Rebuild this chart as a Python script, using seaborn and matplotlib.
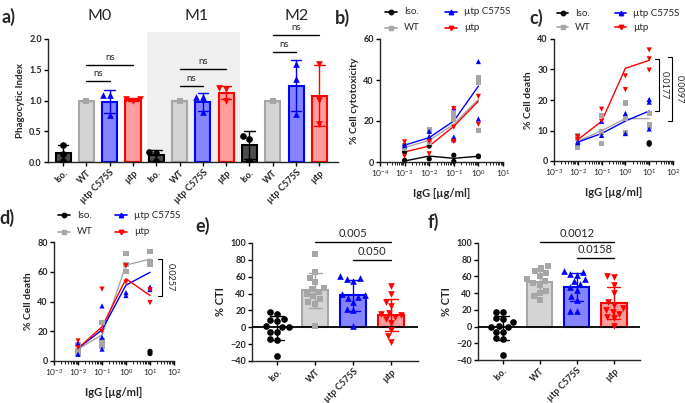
import warnings
warnings.filterwarnings("ignore")
import numpy as np
import pandas as pd
import matplotlib
matplotlib.use("Agg")
import matplotlib.pyplot as plt
from matplotlib.lines import Line2D
from matplotlib.patches import Rectangle
from matplotlib.ticker import LogLocator, NullFormatter
import seaborn as sns

# ---------------- data ----------------
groups = ["Iso.", "WT", "µtp C575S", "µtp"]
macro = ["M0", "M1", "M2"]

# (a) phagocytic index, three donors per bar, per macrophage type M0/M1/M2
a_iso = [[0.28, 0.13, 0.02], [0.17, 0.15, 0.01], [0.42, 0.38, 0.01]]
a_wt = [[1.0, 1.0, 1.0], [1.0, 1.0, 1.0], [1.0, 1.0, 1.0]]
a_c575s = [[1.09, 1.09, 0.76], [1.06, 1.05, 0.81], [1.59, 1.35, 0.78]]
a_utp = [[1.03, 1.02, 0.99], [1.20, 1.19, 1.00], [1.60, 1.01, 0.62]]

# (b) % cell cytotoxicity vs IgG
b_conc = [1e-3, 1e-2, 1e-1, 1e0]
b_mean_iso = [0.5, 2.9, 1.8, 2.8]
b_mean_wt = [7.0, 10.6, 18.4, 30.6]
b_mean_c575s = [8.2, 11.9, 20.0, 37.0]
b_mean_utp = [4.9, 7.8, 17.4, 29.7]
b_pts_iso = [[4.9, 0.8], [7.8, 1.5], [3.3, 0.3], [2.9, 2.6]]
b_pts_wt = [[7.8, 6.8], [15.8, 15.0, 9.8], [23.6, 21.0, 10.6], [41.0, 38.6, 15.2]]
b_pts_c575s = [[9.0, 8.0], [15.0, 12.5], [26.4, 12.2, 11.4], [49.0, 21.0]]
b_pts_utp = [[9.8, 2.8], [10.0, 4.0], [26.0, 17.0, 10.0], [32.0, 18.4]]

# (c) % cell death vs IgG
c_conc = [1e-2, 1e-1, 1e0, 1e1]
c_mean_wt = [6.5, 9.9, 13.9, 13.9]
c_mean_c575s = [6.2, 9.0, 13.1, 16.4]
c_mean_utp = [7.0, 13.0, 30.4, 33.0]
c_pts_wt = [[8.2, 7.5, 4.6], [15.0, 9.5, 5.7], [19.0, 14.0, 9.2], [15.5, 12.0, 11.5]]
c_pts_c575s = [[6.0, 6.5], [13.0, 8.4], [15.6, 9.0], [20.2, 19.3, 10.5]]
c_pts_utp = [[7.0, 8.0], [17.0, 13.0], [27.9, 23.4], [36.4, 33.5, 29.8]]
c_iso_conc = [1e1]
c_pts_iso = [[5.5, 6.0]]

# (d) % cell death vs IgG
d_conc = [1e-2, 1e-1, 1e0, 1e1]
d_mean_wt = [8.0, 17.5, 64.5, 68.5]
d_mean_c575s = [8.5, 20.9, 51.0, 59.6]
d_mean_utp = [8.5, 23.0, 55.3, 44.0]
d_pts_wt = [[11.0, 7.0, 5.0], [25.8, 14.0, 12.0, 10.0], [72.5, 65.0, 60.0], [73.5, 67.0, 65.0]]
d_pts_c575s = [[12.0, 4.5], [37.0, 16.0, 8.0], [46.0, 44.0], [49.7, 48.0]]
d_pts_utp = [[13.5, 9.0], [48.3, 20.0], [64.0, 53.0], [48.0, 39.3]]
d_iso_conc = [1e1]
d_pts_iso = [[5.0, 6.5]]

# (e) % CTI
e_iso = [18, 16, 10, 9, 7, 1, 0, 0, -5, -6, -14, -15, -34]
e_wt = [87, 66, 59, 54, 47, 45, 42, 39, 37, 34, 30, 28, 1]
e_c575s = [61, 58, 57, 55, 40, 38, 36, 35, 30, 22, 20, 2]
e_utp = [49, 40, 30, 25, 17, 16, 15, 12, 10, 5, -3, -10, -17]

# (f) % CTI
f_iso = [18, 17, 10, 9, 5, 1, 0, -1, -6, -6, -14, -15, -34]
f_wt = [72, 70, 66, 64, 60, 57, 55, 52, 50, 43, 40, 36, 32]
f_c575s = [67, 65, 63, 62, 57, 54, 51, 47, 44, 37, 32, 19, 19]
f_utp = [60, 59, 50, 40, 30, 26, 22, 20, 18, 15, 12, 10, 1]

# ---------------- style ----------------
edge = {"Iso.": "#000000", "WT": "#a6a6a6", "µtp C575S": "#0000ff", "µtp": "#ff0000"}
fill = {"Iso.": "#4d4d4d", "WT": "#d4d4d4", "µtp C575S": "#8585ff", "µtp": "#ff9c9c"}
marker = {"Iso.": "o", "WT": "s", "µtp C575S": "^", "µtp": "v"}

sns.set_style("ticks")
plt.rcParams["font.family"] = ["Lato", "DejaVu Sans"]
plt.rcParams["mathtext.default"] = "regular"
plt.rcParams["axes.linewidth"] = 1.0

W, H = 685, 403
fig = plt.figure(figsize=(W / 100, H / 100), dpi=100)


def add_ax(l, t, r, b):
    return fig.add_axes([l / W, 1 - b / H, (r - l) / W, (b - t) / H])


def fx(x):
    return x / W


def fy(y):
    return 1 - y / H


def style_ax(ax, ylabsize=6.5):
    sns.despine(ax=ax)
    ax.tick_params(axis="both", which="major", length=3, width=1, labelsize=ylabsize, pad=1.5, color="black")
    ax.tick_params(axis="both", which="minor", length=1.8, width=0.7)
    for lab in ax.get_yticklabels():
        lab.set_fontweight("bold")


def panel_label(x, y, s):
    fig.text(fx(x), fy(y), s, fontsize=13, fontweight="bold", ha="center", va="center")


# ---------------- (a) ----------------
axa = add_ax(48, 39, 338, 162)
keys = [f"{m} {g}" for m in macro for g in groups]
a_data = {"Iso.": a_iso, "WT": a_wt, "µtp C575S": a_c575s, "µtp": a_utp}
rows = [(f"{m} {g}", g, v) for g in groups for mi, m in enumerate(macro) for v in a_data[g][mi]]
dfa = pd.DataFrame(rows, columns=["key", "group", "value"])
axa.add_patch(Rectangle((3.62, 0), 3.97, 2.12, facecolor="#efefef", edgecolor="none",
                        zorder=0, clip_on=False))
for g in groups:
    sub = dfa[dfa["group"] == g]
    sns.barplot(data=sub, x="key", y="value", order=keys, color=fill[g], saturation=1,
                edgecolor=edge[g], linewidth=1.5, width=0.65, errorbar="sd", capsize=0.45,
                err_kws={"color": edge[g], "linewidth": 1.0}, ax=axa)
    if g == "WT":
        sns.stripplot(data=sub, x="key", y="value", order=keys, color=edge[g], marker=marker[g],
                      size=4.8, linewidth=0, jitter=False, ax=axa, zorder=4)
    else:
        sns.swarmplot(data=sub, x="key", y="value", order=keys, color=edge[g], marker=marker[g],
                      size=4.8, linewidth=0, ax=axa, zorder=4)
axa.set_xlim(-0.65, 11.8)
axa.set_ylim(0, 2.0)
axa.set_yticks([0, 0.5, 1.0, 1.5, 2.0])
axa.set_yticklabels(["0.0", "0.5", "1.0", "1.5", "2.0"])
axa.set_xticks(range(12))
axa.set_xticklabels(groups * 3, rotation=45, ha="right", rotation_mode="anchor",
                    fontsize=6.5, fontweight="bold")
axa.set_xlabel("")
axa.set_ylabel("Phagocytic Index", fontsize=7, fontweight="bold", labelpad=3)
style_ax(axa)
a_pairs = [(1, 2, 1.31), (1, 3, 1.57), (5, 6, 1.24), (5, 7, 1.51), (9, 10, 1.79), (9, 11, 2.06)]
for x0, x1, y in a_pairs:
    axa.plot([x0, x1], [y, y], color="black", lw=1, clip_on=False)
    axa.text((x0 + x1) / 2, y + 0.05, "ns", ha="center", va="bottom", fontsize=7, clip_on=False)
for x, m in zip([100, 197, 297], macro):
    fig.text(fx(x), fy(16), m, fontsize=11.5, ha="center", va="center")
panel_label(9, 17, "a)")


# ---------------- curves (b, c, d) ----------------
def curve_panel(ax, means, pts, xlim, ylim, yticks, ylabel):
    ax.set_xscale("log")
    mrows = [(g, c, v) for g, (cs, vs) in means.items() for c, v in zip(cs, vs)]
    dfm = pd.DataFrame(mrows, columns=["group", "conc", "value"])
    prow = [(g, c, v) for g, (cs, vss) in pts.items() for c, vs in zip(cs, vss) for v in vs]
    dfp = pd.DataFrame(prow, columns=["group", "conc", "value"])
    horder = [g for g in groups if g in means]
    sns.lineplot(data=dfm, x="conc", y="value", hue="group", hue_order=horder, palette=edge,
                 lw=1.0, legend=False, errorbar=None, ax=ax, clip_on=False)
    porder = [g for g in groups if g in pts]
    sns.scatterplot(data=dfp, x="conc", y="value", hue="group", style="group", hue_order=porder,
                    style_order=porder, palette=edge, markers=marker, s=14, linewidth=0,
                    legend=False, ax=ax, clip_on=False, zorder=3)
    ax.set_xlim(*xlim)
    ax.set_ylim(*ylim)
    ax.set_yticks(yticks)
    ax.xaxis.set_major_locator(LogLocator(base=10, numticks=12))
    ax.xaxis.set_minor_locator(LogLocator(base=10, subs=np.arange(2, 10), numticks=12))
    ax.xaxis.set_minor_formatter(NullFormatter())
    ax.set_xlabel("IgG [µg/ml]", fontsize=8, fontweight="bold", labelpad=6)
    ax.set_ylabel(ylabel, fontsize=7.5, fontweight="bold", labelpad=3)
    style_ax(ax)
    for lab in ax.get_xticklabels():
        lab.set_fontsize(6)


def bracket(ax, xa, ytop, ybot, text, xt):
    tr = ax.get_yaxis_transform()
    ax.plot([xa - 0.03, xa, xa, xa - 0.03], [ytop, ytop, ybot, ybot], transform=tr,
            color="black", lw=0.8, clip_on=False)
    ax.text(xt, (ytop + ybot) / 2, text, transform=tr, rotation=270, ha="center",
            va="center", fontsize=6.5)


def legend(x0, y0, dxc, dyr, hl=12, gap=7):
    for i, g in enumerate(groups):
        hx = x0 + (i // 2) * dxc
        hy = y0 + (i % 2) * dyr
        fig.add_artist(Line2D([fx(hx), fx(hx + hl)], [fy(hy), fy(hy)], color=edge[g], lw=1.2))
        fig.add_artist(Line2D([fx(hx + hl / 2)], [fy(hy)], color=edge[g], marker=marker[g],
                              markersize=3.2, lw=0))
        fig.text(fx(hx + hl + gap), fy(hy), g, fontsize=7, va="center", ha="left")


axb = add_ax(380, 39, 503, 162)
curve_panel(axb,
            {"Iso.": (b_conc, b_mean_iso), "WT": (b_conc, b_mean_wt),
             "µtp C575S": (b_conc, b_mean_c575s), "µtp": (b_conc, b_mean_utp)},
            {"Iso.": (b_conc, b_pts_iso), "WT": (b_conc, b_pts_wt),
             "µtp C575S": (b_conc, b_pts_c575s), "µtp": (b_conc, b_pts_utp)},
            (1e-4, 1e1), (0, 60), [0, 20, 40, 60], "% Cell cytotoxicity")
legend(385, 12, 60, 16)
panel_label(342, 18, "b)")

axc = add_ax(554, 39, 673, 161)
curve_panel(axc,
            {"WT": (c_conc, c_mean_wt), "µtp C575S": (c_conc, c_mean_c575s),
             "µtp": (c_conc, c_mean_utp)},
            {"Iso.": (c_iso_conc, c_pts_iso), "WT": (c_conc, c_pts_wt),
             "µtp C575S": (c_conc, c_pts_c575s), "µtp": (c_conc, c_pts_utp)},
            (1e-3, 1e2), (0, 40), [0, 10, 20, 30, 40], "% Cell death")
bracket(axc, 0.88, 33.5, 16.5, "0.0177", 0.925)
bracket(axc, 0.99, 34.0, 13.0, "0.0097", 1.05)
legend(557, 13, 58, 14, hl=11)
panel_label(536, 18, "c)")

axd = add_ax(54, 242, 174, 361)
curve_panel(axd,
            {"WT": (d_conc, d_mean_wt), "µtp C575S": (d_conc, d_mean_c575s),
             "µtp": (d_conc, d_mean_utp)},
            {"Iso.": (d_iso_conc, d_pts_iso), "WT": (d_conc, d_pts_wt),
             "µtp C575S": (d_conc, d_pts_c575s), "µtp": (d_conc, d_pts_utp)},
            (1e-3, 1e2), (0, 80), [0, 20, 40, 60, 80], "% Cell death")
bracket(axd, 0.9, 68.5, 44.0, "0.0257", 0.965)
legend(58, 215, 57, 17)
panel_label(7, 218, "d)")


# ---------------- (e, f) ----------------
def cti_panel(ax, vals, sigs):
    rows = [(g, v) for g in groups for v in vals[g]]
    df = pd.DataFrame(rows, columns=["group", "value"])
    for g in groups:
        sub = df[df["group"] == g]
        if g == "Iso.":
            sns.barplot(data=sub, x="group", y="value", order=groups, fill=False, color="black",
                        linewidth=0, width=0.68, errorbar="sd", capsize=0.35,
                        err_kws={"color": "black", "linewidth": 1.0}, ax=ax)
        else:
            sns.barplot(data=sub, x="group", y="value", order=groups, color=fill[g], saturation=1,
                        edgecolor=edge[g], linewidth=1.5, width=0.68, errorbar="sd",
                        capsize=0.35, err_kws={"color": edge[g], "linewidth": 1.0}, ax=ax)
        sns.swarmplot(data=sub, x="group", y="value", order=groups, color=edge[g],
                      marker=marker[g], size=4.8, linewidth=0, ax=ax, zorder=4)
    ax.axhline(0, color="black", lw=1.3, zorder=3)
    ax.set_xlim(-0.66, 3.7)
    ax.set_ylim(-40, 100)
    ax.set_yticks(range(-40, 101, 20))
    ax.set_xticks(range(4))
    ax.set_xticklabels(groups, rotation=45, ha="right", rotation_mode="anchor",
                       fontsize=6.5, fontweight="bold")
    ax.set_xlabel("")
    ax.set_ylabel("% CTI", fontsize=8, fontweight="bold", labelpad=3)
    style_ax(ax)
    for x0, x1, y, ty, s in sigs:
        ax.plot([x0, x1], [y, y], color="black", lw=1, clip_on=False)
        ax.text((x0 + x1) / 2, ty, s, ha="center", va="center", fontsize=8, clip_on=False)


axe = add_ax(252, 243, 418, 361)
cti_panel(axe, {"Iso.": e_iso, "WT": e_wt, "µtp C575S": e_c575s, "µtp": e_utp},
          [(1, 3, 101, 111, "0.005"), (2, 3, 79.5, 89.5, "0.050")])
panel_label(203, 226, "e)")

axf = add_ax(478, 243, 640, 360)
cti_panel(axf, {"Iso.": f_iso, "WT": f_wt, "µtp C575S": f_c575s, "µtp": f_utp},
          [(1, 3, 101, 111, "0.0012"), (2, 3, 82.5, 92.5, "0.0158")])
panel_label(433, 222, "f)")

fig.savefig("out.png", dpi=100)
